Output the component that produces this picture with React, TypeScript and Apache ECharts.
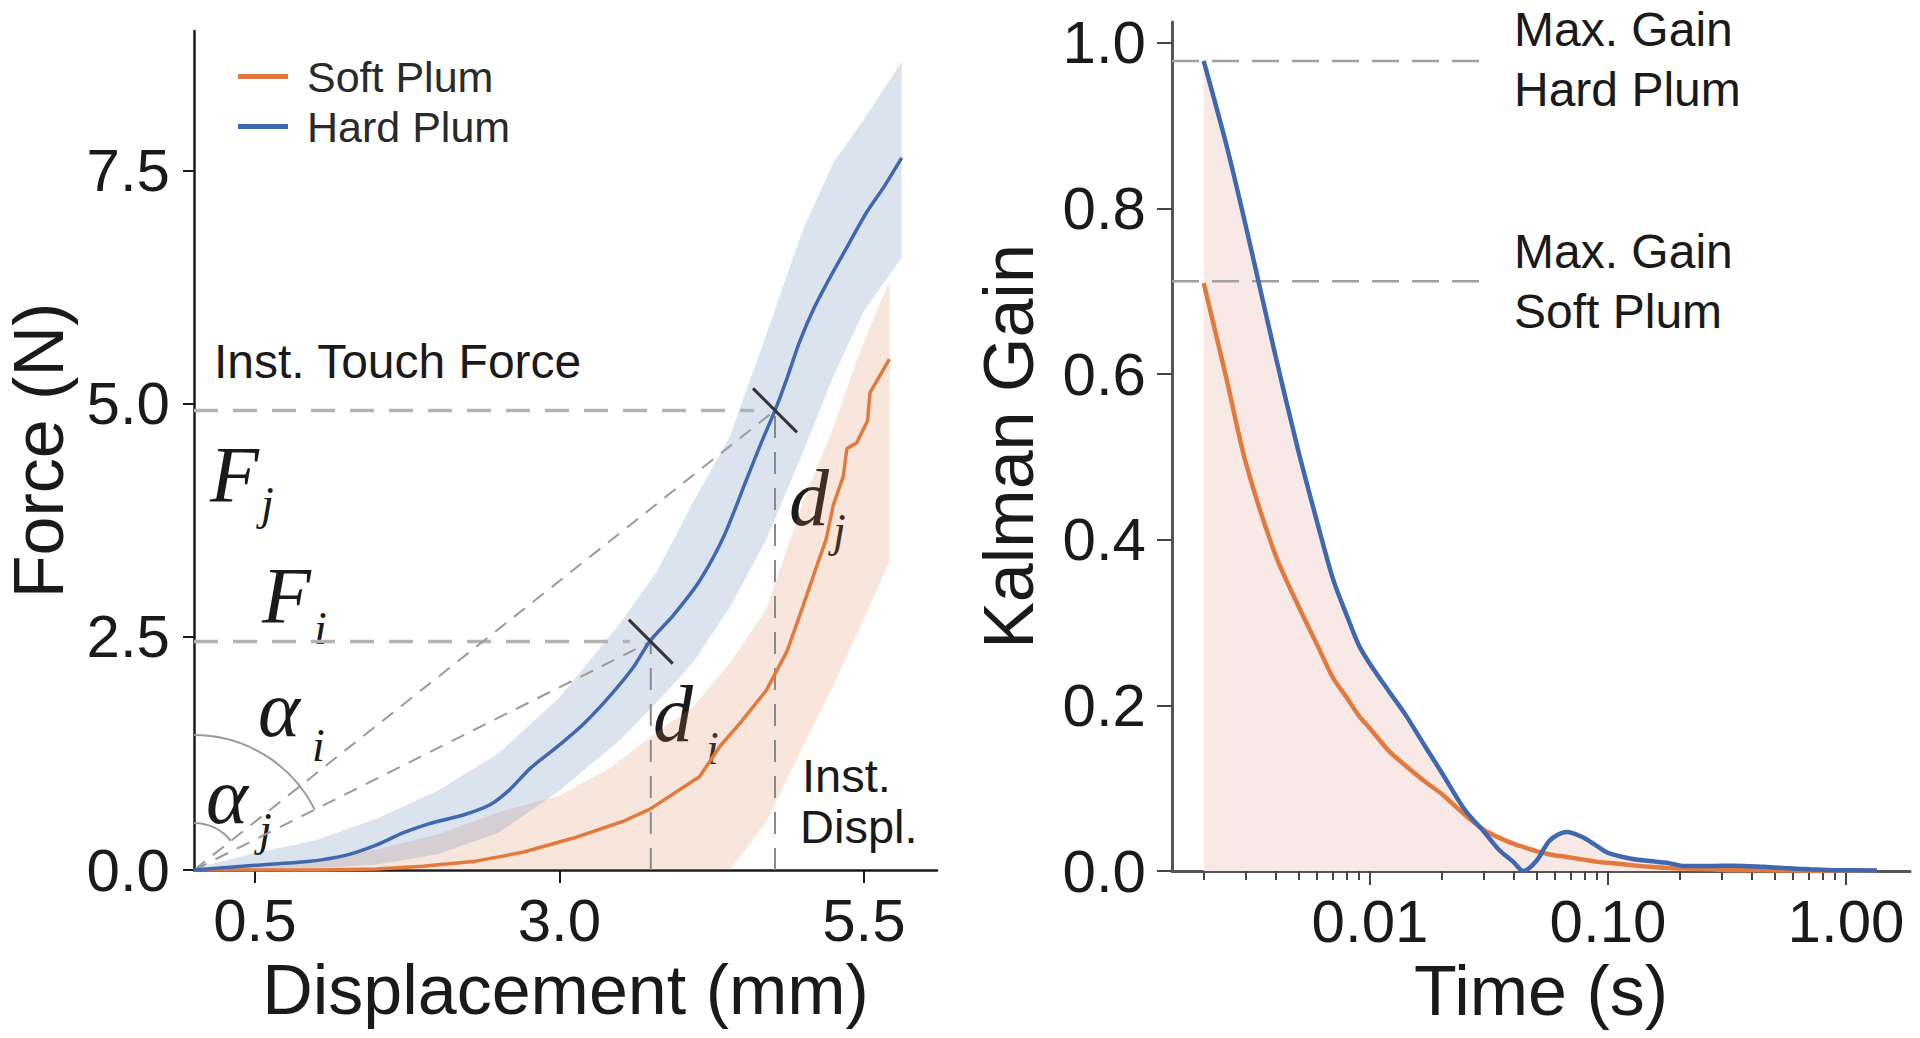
import React, { useEffect, useRef } from 'react';
import * as echarts from 'echarts';

// ---------- Left panel: Force vs Displacement ----------
const hardX = [0.0, 0.5, 0.93, 1.25, 1.5, 1.72, 1.94, 2.21, 2.43, 2.59, 2.76, 2.98, 3.2, 3.41, 3.61, 3.74, 3.94, 4.15, 4.35, 4.54, 4.65, 4.77, 4.87, 4.97, 5.08, 5.19, 5.36, 5.52, 5.66, 5.81];
const hardForce = [0.0, 0.05, 0.09, 0.16, 0.27, 0.4, 0.5, 0.59, 0.7, 0.86, 1.09, 1.32, 1.57, 1.86, 2.18, 2.45, 2.74, 3.1, 3.58, 4.2, 4.56, 4.93, 5.28, 5.66, 6.0, 6.28, 6.68, 7.05, 7.32, 7.64];

const softX = [0.0, 0.5, 1.0, 1.5, 1.88, 2.29, 2.7, 3.0, 3.11, 3.52, 3.74, 4.15, 4.32, 4.48, 4.7, 4.87, 5.0, 5.11, 5.19, 5.25, 5.33, 5.36, 5.44, 5.53, 5.55, 5.63, 5.71];
const softForce = [0.0, 0.0, 0.0, 0.01, 0.04, 0.09, 0.19, 0.3, 0.34, 0.52, 0.65, 1.0, 1.33, 1.57, 1.93, 2.35, 2.83, 3.25, 3.55, 3.92, 4.22, 4.52, 4.58, 4.82, 5.12, 5.3, 5.48];

const hardBandX = [0, 0.5, 1.0, 1.5, 2.0, 2.5, 3.0, 3.5, 3.8, 4.1, 4.4, 4.7, 5.0, 5.25, 5.5, 5.81];
const hardUpper = [0.02, 0.18, 0.32, 0.55, 0.85, 1.25, 1.85, 2.65, 3.2, 3.95, 4.65, 5.75, 6.87, 7.59, 8.05, 8.67];
const hardLower = [0, 0, 0.02, 0.06, 0.17, 0.4, 0.85, 1.4, 1.8, 2.23, 2.82, 3.55, 4.48, 5.3, 6.0, 6.57];

const softBandX = [0, 0.5, 1.0, 1.5, 2.0, 2.5, 3.0, 3.4, 3.8, 4.1, 4.4, 4.7, 5.0, 5.25, 5.45, 5.71];
const softUpper = [0.01, 0.04, 0.1, 0.22, 0.38, 0.62, 0.8, 1.08, 1.48, 1.75, 2.22, 2.8, 3.95, 4.75, 5.5, 6.32];
const softLower = [0, 0, 0, 0, 0, 0, 0, 0, 0, 0, 0, 0.52, 1.33, 1.98, 2.55, 3.31];

// instantaneous touch points (i, j)
const touchDispl = [3.75, 4.77];
const touchForce = [2.45, 4.93];
const forceLineEnd = [3.58, 4.6];

const leftXTicks = [0.5, 3.0, 5.5];
const leftYTicks = [0, 2.5, 5.0, 7.5];

// ---------- Right panel: Kalman gain vs time ----------
const timeS = [0.002, 0.0025, 0.003, 0.004, 0.005, 0.006, 0.007, 0.008, 0.009, 0.01, 0.012, 0.014, 0.017, 0.02, 0.025, 0.03, 0.035, 0.04, 0.044, 0.05, 0.057, 0.067, 0.078, 0.09, 0.1, 0.127, 0.15, 0.18, 0.21, 0.27, 0.34, 0.45, 0.55, 0.7, 0.88, 1.1, 1.35];
const hardGain = [0.978, 0.875, 0.78, 0.623, 0.507, 0.421, 0.352, 0.308, 0.272, 0.25, 0.217, 0.19, 0.151, 0.119, 0.074, 0.048, 0.025, 0.011, 0.0, 0.012, 0.037, 0.047, 0.041, 0.03, 0.022, 0.0145, 0.012, 0.0095, 0.006, 0.006, 0.0064, 0.005, 0.0036, 0.002, 0.001, 0.0008, 0.0005];
const softGain = [0.71, 0.593, 0.494, 0.382, 0.32, 0.273, 0.233, 0.209, 0.187, 0.172, 0.145, 0.128, 0.108, 0.093, 0.068, 0.05, 0.04, 0.033, 0.029, 0.024, 0.02, 0.017, 0.014, 0.011, 0.01, 0.007, 0.005, 0.0035, 0.003, 0.002, 0.001, 0.0008, 0.0006, 0.0004, 0.0003, 0.0002, 0.0001];
const maxGain = [0.978, 0.712];
const maxGainLineEnd = 0.029;

const rightXLabels = [0.01, 0.1, 1.0];
const rightMinorTicks = [0.002, 0.003, 0.004, 0.005, 0.006, 0.007, 0.008, 0.009, 0.02, 0.03, 0.04, 0.05, 0.06, 0.07, 0.08, 0.09, 0.2, 0.3, 0.4, 0.5, 0.6, 0.7, 0.8, 0.9];
const rightYTicks = [0, 0.2, 0.4, 0.6, 0.8, 1.0];

const BLUE = '#3f68b0';
const ORANGE = '#e27a3d';
const TXT = '#1a1a1a';
const SANS = 'Liberation Sans, Arial, sans-serif';
const SERIF = 'Liberation Serif, Times New Roman, serif';

const lg = (t: number) => Math.log10(t);
const R_MIN = -2.832;
const R_MAX = 0.269;

function bandSeries(xs: number[], lo: number[], hi: number[], color: string) {
  return {
    type: 'custom',
    xAxisIndex: 0,
    yAxisIndex: 0,
    z: 1,
    silent: true,
    clip: true,
    data: [[xs[0], lo[0]]],
    renderItem: (_p: any, api: any) => {
      const pts: number[][] = [];
      for (let i = 0; i < xs.length; i++) pts.push(api.coord([xs[i], hi[i]]));
      for (let i = xs.length - 1; i >= 0; i--) pts.push(api.coord([xs[i], lo[i]]));
      return { type: 'polygon', shape: { points: pts }, style: { fill: color } };
    },
  };
}

function segSeries(data: number[][], color: string, width: number, dash: any, axis: number, z = 2) {
  return {
    type: 'line',
    xAxisIndex: axis,
    yAxisIndex: axis,
    data,
    showSymbol: false,
    symbol: 'none',
    silent: true,
    z,
    lineStyle: { color, width, type: dash },
  };
}

function txt(text: string, x: number, y: number, size: number, serif = false) {
  return {
    type: 'text',
    x,
    y,
    silent: true,
    style: {
      text,
      fontSize: size,
      fontFamily: serif ? SERIF : SANS,
      fontStyle: serif ? 'italic' : 'normal',
      fill: TXT,
      align: 'left',
      verticalAlign: 'middle',
    },
  };
}

export default function App() {
  const ref = useRef<HTMLDivElement>(null);
  useEffect(() => {
    const chart = echarts.init(ref.current as HTMLDivElement, null, { renderer: 'svg' });
    const touchPts = touchDispl.map((d, i) => [d, touchForce[i]]);
    const envelope = timeS.map((t, i) => [lg(t), Math.max(hardGain[i], softGain[i])]);

    const series: any[] = [
      bandSeries(softBandX, softLower, softUpper, 'rgba(221,132,82,0.2)'),
      bandSeries(hardBandX, hardLower, hardUpper, 'rgba(76,114,176,0.2)'),
      // horizontal force lines
      ...touchForce.map((f, i) => segSeries([[0, f], [forceLineEnd[i], f]], '#b3b3b3', 3.5, [24, 15], 0)),
      // vertical displacement lines
      ...touchDispl.map((d, i) => segSeries([[d, 0], [d, touchForce[i]]], '#8a8a8a', 2, [22, 14], 0)),
      // diagonal secant lines
      ...touchDispl.map((d, i) => segSeries([[0, 0], [d, touchForce[i]]], '#9a9a9a', 2, [14, 10], 0)),
      {
        name: 'Soft Plum',
        type: 'line',
        xAxisIndex: 0,
        yAxisIndex: 0,
        data: softX.map((x, i) => [x, softForce[i]]),
        showSymbol: false,
        symbol: 'none',
        z: 3,
        itemStyle: { color: ORANGE },
        lineStyle: { color: ORANGE, width: 3.5 },
      },
      {
        name: 'Hard Plum',
        type: 'line',
        xAxisIndex: 0,
        yAxisIndex: 0,
        data: hardX.map((x, i) => [x, hardForce[i]]),
        showSymbol: false,
        symbol: 'none',
        smooth: 0.25,
        z: 3,
        itemStyle: { color: BLUE },
        lineStyle: { color: BLUE, width: 3.5 },
      },
      {
        type: 'custom',
        xAxisIndex: 0,
        yAxisIndex: 0,
        z: 4,
        silent: true,
        data: touchPts,
        renderItem: (_p: any, api: any) => {
          const c = api.coord([api.value(0), api.value(1)]);
          const h = 22;
          return {
            type: 'line',
            shape: { x1: c[0] - h, y1: c[1] - h, x2: c[0] + h, y2: c[1] + h },
            style: { stroke: '#333', lineWidth: 3 },
          };
        },
      },
      {
        type: 'custom',
        xAxisIndex: 0,
        yAxisIndex: 0,
        z: 4,
        silent: true,
        data: touchPts,
        renderItem: (p: any, api: any) => {
          const o = api.coord([0, 0]);
          const c = api.coord([api.value(0), api.value(1)]);
          const ang = Math.atan2(c[1] - o[1], c[0] - o[0]);
          const r = p.dataIndex === 0 ? 135 : 47;
          return {
            type: 'arc',
            shape: { cx: o[0], cy: o[1], r, startAngle: -Math.PI / 2, endAngle: ang, clockwise: true },
            style: { stroke: '#9a9a9a', lineWidth: 2, fill: 'none' },
          };
        },
      },
      // right panel
      {
        type: 'line',
        xAxisIndex: 1,
        yAxisIndex: 1,
        data: envelope,
        showSymbol: false,
        symbol: 'none',
        silent: true,
        z: 1,
        smooth: 0.3,
        lineStyle: { width: 0, color: '#f6e4e2' },
        areaStyle: { color: '#f8e9e7', opacity: 1 },
      },
      ...maxGain.map((g) => segSeries([[R_MIN, g], [lg(maxGainLineEnd), g]], '#a0a0a0', 2.5, [27, 13], 1)),
      {
        name: 'Soft Gain',
        type: 'line',
        xAxisIndex: 1,
        yAxisIndex: 1,
        data: timeS.map((t, i) => [lg(t), softGain[i]]),
        showSymbol: false,
        symbol: 'none',
        smooth: 0.3,
        z: 3,
        lineStyle: { color: ORANGE, width: 4.5 },
      },
      {
        name: 'Hard Gain',
        type: 'line',
        xAxisIndex: 1,
        yAxisIndex: 1,
        data: timeS.map((t, i) => [lg(t), hardGain[i]]),
        showSymbol: false,
        symbol: 'none',
        smooth: 0.3,
        z: 3,
        lineStyle: { color: BLUE, width: 4.5 },
      },
    ];

    const option: any = {
      animation: false,
      backgroundColor: '#ffffff',
      textStyle: { fontFamily: SANS, color: TXT },
      grid: [
        { left: 194, top: 31, width: 743, height: 839 },
        { left: 1172, top: 22, width: 738, height: 849 },
      ],
      legend: {
        data: ['Soft Plum', 'Hard Plum'],
        orient: 'vertical',
        left: 233,
        top: 50,
        icon: 'rect',
        itemWidth: 50,
        itemHeight: 5,
        itemGap: 7,
        selectedMode: false,
        textStyle: { fontSize: 43, color: '#2a2a2a', fontFamily: SANS, padding: [0, 0, 0, 14] },
      },
      xAxis: [
        {
          gridIndex: 0,
          type: 'value',
          min: 0,
          max: 6.1,
          splitLine: { show: false },
          axisLine: { show: true, onZero: false, lineStyle: { color: '#1a1a1a', width: 2.5 } },
          axisTick: { show: true, length: 13, customValues: leftXTicks, lineStyle: { color: '#1a1a1a', width: 2 } },
          axisLabel: { customValues: leftXTicks, formatter: (v: number) => v.toFixed(1), fontSize: 60, color: TXT, margin: 20 },
          name: 'Displacement (mm)',
          nameLocation: 'middle',
          nameGap: 50,
          nameTextStyle: { fontSize: 70, color: TXT },
        },
        {
          gridIndex: 1,
          type: 'value',
          position: 'bottom',
          min: R_MIN,
          max: R_MAX,
          splitLine: { show: false },
          axisLine: { show: true, onZero: false, lineStyle: { color: '#555', width: 3 } },
          axisTick: { show: true, length: 14, customValues: rightXLabels.map(lg), lineStyle: { color: '#444', width: 2 } },
          axisLabel: {
            customValues: rightXLabels.map(lg),
            formatter: (v: number) => Math.pow(10, v).toFixed(2),
            fontSize: 60,
            color: TXT,
            margin: 20,
          },
          name: 'Time (s)',
          nameLocation: 'middle',
          nameGap: 84,
          nameTextStyle: { fontSize: 70, color: TXT },
        },
        {
          gridIndex: 1,
          type: 'value',
          position: 'bottom',
          min: R_MIN,
          max: R_MAX,
          splitLine: { show: false },
          axisLine: { show: false },
          axisTick: { show: true, length: 9, customValues: rightMinorTicks.map(lg), lineStyle: { color: '#444', width: 2 } },
          axisLabel: { show: false },
        },
      ],
      yAxis: [
        {
          gridIndex: 0,
          type: 'value',
          min: 0,
          max: 9,
          splitLine: { show: false },
          axisLine: { show: true, onZero: false, lineStyle: { color: '#1a1a1a', width: 2.5 } },
          axisTick: { show: true, length: 11, customValues: leftYTicks, lineStyle: { color: '#1a1a1a', width: 2 } },
          axisLabel: { customValues: leftYTicks, formatter: (v: number) => v.toFixed(1), fontSize: 60, color: TXT, margin: 24 },
          name: 'Force (N)',
          nameLocation: 'middle',
          nameRotate: 90,
          nameGap: 120,
          nameTextStyle: { fontSize: 70, color: TXT },
        },
        {
          gridIndex: 1,
          type: 'value',
          min: 0,
          max: 1.025,
          splitLine: { show: false },
          axisLine: { show: true, onZero: false, lineStyle: { color: '#555', width: 3 } },
          axisTick: { show: true, length: 15, customValues: rightYTicks, lineStyle: { color: '#444', width: 2 } },
          axisLabel: { customValues: rightYTicks, formatter: (v: number) => v.toFixed(1), fontSize: 60, color: TXT, margin: 26 },
          name: 'Kalman Gain',
          nameLocation: 'middle',
          nameRotate: 90,
          nameGap: 128,
          nameTextStyle: { fontSize: 70, color: TXT },
        },
      ],
      series,
      graphic: [
        txt('Inst. Touch Force', 214, 361, 48),
        txt('F', 210, 475, 80, true),
        txt('j', 261, 503, 46, true),
        txt('F', 262, 596, 80, true),
        txt('i', 314, 628, 46, true),
        txt('\u03b1', 258, 709, 80, true),
        txt('i', 312, 745, 46, true),
        txt('\u03b1', 206, 796, 80, true),
        txt('j', 259, 829, 46, true),
        txt('d', 653, 714, 80, true),
        txt('i', 706, 748, 46, true),
        txt('d', 789, 498, 80, true),
        txt('j', 833, 530, 46, true),
        txt('Inst.', 802, 775, 47),
        txt('Displ.', 800, 826, 47),
        txt('Max. Gain', 1514, 29, 48),
        txt('Hard Plum', 1514, 89, 48),
        txt('Max. Gain', 1514, 251, 48),
        txt('Soft Plum', 1514, 311, 48),
      ],
    };
    chart.setOption(option);
    return () => chart.dispose();
  }, []);
  return (
    <div
      ref={ref}
      style={{ position: 'fixed', left: 0, top: 0, width: 1920, height: 1038, background: '#fff' }}
    />
  );
}
